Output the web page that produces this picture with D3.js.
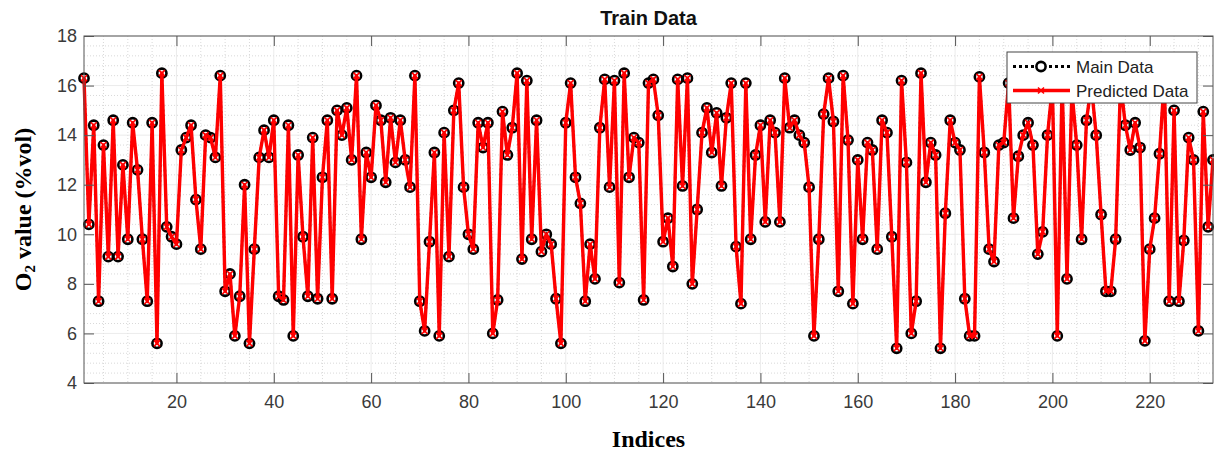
<!DOCTYPE html>
<html><head><meta charset="utf-8">
<script src="https://cdn.jsdelivr.net/npm/d3@7"></script>
<style>body{margin:0;background:#fff;} svg{display:block;}</style>
</head><body><svg id="c" width="1214" height="457"></svg>
<script>
const mainData = [
16.3,10.4,14.4,7.3,13.6,9.1,14.6,9.1,12.8,9.8,
14.5,12.6,9.8,7.3,14.5,5.6,16.5,10.3,9.9,9.6,
13.4,13.9,14.4,11.4,9.4,14.0,13.9,13.1,16.4,7.7,
8.4,5.9,7.5,12.0,5.6,9.4,13.1,14.2,13.1,14.6,
7.5,7.35,14.4,5.9,13.2,9.9,7.5,13.9,7.4,12.3,
14.6,7.4,15.0,14.0,15.1,13.0,16.4,9.8,13.3,12.3,
15.2,14.6,12.1,14.7,12.9,14.6,13.0,11.9,16.4,7.3,
6.1,9.7,13.3,5.9,14.1,9.1,15.0,16.1,11.9,10.0,
9.4,14.5,13.5,14.5,6.0,7.35,14.95,13.2,14.3,16.5,
9.0,16.2,9.8,14.6,9.3,10.0,9.6,7.4,5.6,14.5,
16.1,12.3,11.25,7.3,9.6,8.2,14.3,16.25,11.9,16.2,
8.05,16.5,12.3,13.9,13.7,7.35,16.1,16.25,14.8,9.7,
10.65,8.7,16.25,11.95,16.3,8.0,11.0,14.1,15.1,13.3,
14.9,11.95,14.7,16.1,9.5,7.2,16.1,9.8,13.2,14.4,
10.5,14.6,14.1,10.5,16.3,14.3,14.6,14.0,13.7,11.9,
5.9,9.8,14.85,16.3,14.55,7.7,16.4,13.8,7.2,13.0,
9.8,13.7,13.4,9.4,14.6,14.1,9.9,5.4,16.2,12.9,
6.0,7.3,16.5,12.1,13.7,13.2,5.4,10.85,14.6,13.7,
13.4,7.4,5.9,5.9,16.35,13.3,9.4,8.9,13.6,13.7,
16.1,10.65,13.15,14.0,14.5,13.6,9.2,10.1,14.0,16.0,
5.9,16.2,8.2,15.8,13.6,9.8,14.6,16.0,14.0,10.8,
7.7,7.7,9.8,16.1,14.4,13.4,14.5,13.5,5.7,9.4,
10.65,13.25,16.3,7.3,15.0,7.3,9.75,13.9,13.0,6.1,
14.95,10.3,13.0
];
const predictedData = [
16.3,10.4,14.4,7.3,13.6,9.1,14.6,9.1,12.8,9.8,
14.5,12.6,9.8,7.3,14.5,5.6,16.5,10.3,9.9,9.6,
13.4,13.9,14.4,11.4,9.4,14.0,13.9,13.1,16.4,7.7,
8.4,5.9,7.5,12.0,5.6,9.4,13.1,14.2,13.1,14.6,
7.5,7.35,14.4,5.9,13.2,9.9,7.5,13.9,7.4,12.3,
14.6,7.4,15.0,14.0,15.1,13.0,16.4,9.8,13.3,12.3,
15.2,14.6,12.1,14.7,12.9,14.6,13.0,11.9,16.4,7.3,
6.1,9.7,13.3,5.9,14.1,9.1,15.0,16.1,11.9,10.0,
9.4,14.5,13.5,14.5,6.0,7.35,14.95,13.2,14.3,16.5,
9.0,16.2,9.8,14.6,9.3,10.0,9.6,7.4,5.6,14.5,
16.1,12.3,11.25,7.3,9.6,8.2,14.3,16.25,11.9,16.2,
8.05,16.5,12.3,13.9,13.7,7.35,16.1,16.25,14.8,9.7,
10.65,8.7,16.25,11.95,16.3,8.0,11.0,14.1,15.1,13.3,
14.9,11.95,14.7,16.1,9.5,7.2,16.1,9.8,13.2,14.4,
10.5,14.6,14.1,10.5,16.3,14.3,14.6,14.0,13.7,11.9,
5.9,9.8,14.85,16.3,14.55,7.7,16.4,13.8,7.2,13.0,
9.8,13.7,13.4,9.4,14.6,14.1,9.9,5.4,16.2,12.9,
6.0,7.3,16.5,12.1,13.7,13.2,5.4,10.85,14.6,13.7,
13.4,7.4,5.9,5.9,16.35,13.3,9.4,8.9,13.6,13.7,
16.1,10.65,13.15,14.0,14.5,13.6,9.2,10.1,14.0,16.0,
5.9,16.2,8.2,15.8,13.6,9.8,14.6,16.0,14.0,10.8,
7.7,7.7,9.8,16.1,14.4,13.4,14.5,13.5,5.7,9.4,
10.65,13.25,16.3,7.3,15.0,7.3,9.75,13.9,13.0,6.1,
14.95,10.3,13.0
];
const xTicks = [20,40,60,80,100,120,140,160,180,200,220];
const yTicks = [4,6,8,10,12,14,16,18];
const seriesNames = ["Main Data","Predicted Data"];
const titleText = "Train Data";
const xLabel = "Indices";

const svg = d3.select("#c");
const L = 84, R = 1213, T = 36, B = 383;
const N = mainData.length;
const x = d3.scaleLinear().domain([1, N]).range([L, R]);
const y = d3.scaleLinear().domain([4, 18]).range([B, T]);

svg.append("rect").attr("width",1214).attr("height",457).attr("fill","#fff");

// minor grid
const xMinor = d3.range(5, N + 1, 5).filter(v => v % 20 !== 0);
const yMinor = d3.range(4, 18.001, 0.4).map(v => +v.toFixed(1)).filter(v => Math.abs(v/2 - Math.round(v/2)) > 1e-6);
const grid = svg.append("g");
grid.selectAll("line.xm").data(xMinor).join("line")
  .attr("x1", d => x(d)).attr("x2", d => x(d)).attr("y1", T).attr("y2", B)
  .attr("stroke", "#cfcfcf").attr("stroke-width", 0.8).attr("stroke-dasharray", "1,2");
grid.selectAll("line.ym").data(yMinor).join("line")
  .attr("y1", d => y(d)).attr("y2", d => y(d)).attr("x1", L).attr("x2", R)
  .attr("stroke", "#cfcfcf").attr("stroke-width", 0.8).attr("stroke-dasharray", "1,2");
grid.selectAll("line.xM").data(xTicks).join("line")
  .attr("x1", d => x(d)).attr("x2", d => x(d)).attr("y1", T).attr("y2", B)
  .attr("stroke", "#e6e6e6").attr("stroke-width", 0.8);
grid.selectAll("line.yM").data(yTicks).join("line")
  .attr("y1", d => y(d)).attr("y2", d => y(d)).attr("x1", L).attr("x2", R)
  .attr("stroke", "#e6e6e6").attr("stroke-width", 0.8);

// data
const line = d3.line().x((d, i) => x(i + 1)).y(d => y(d));
const plot = svg.append("g");
plot.append("path").datum(mainData).attr("d", line)
  .attr("fill", "none").attr("stroke", "#000").attr("stroke-width", 2.5).attr("stroke-dasharray", "2,3");
plot.selectAll("circle.m").data(mainData).join("circle")
  .attr("cx", (d, i) => x(i + 1)).attr("cy", d => y(d)).attr("r", 4.6)
  .attr("fill", "none").attr("stroke", "#000").attr("stroke-width", 2.6);
plot.append("path").datum(predictedData).attr("d", line)
  .attr("fill", "none").attr("stroke", "#ff0000").attr("stroke-width", 3.4).attr("stroke-linejoin", "round");
const xm = 3;
plot.selectAll("path.p").data(predictedData).join("path")
  .attr("d", (d, i) => {
    const cx = x(i + 1), cy = y(d);
    return `M${cx-xm},${cy-xm}L${cx+xm},${cy+xm}M${cx-xm},${cy+xm}L${cx+xm},${cy-xm}`;
  })
  .attr("stroke", "#ff0000").attr("stroke-width", 1.6).attr("fill", "none");

// box
svg.append("rect").attr("x", L).attr("y", T).attr("width", R - L).attr("height", B - T)
  .attr("fill", "none").attr("stroke", "#555").attr("stroke-width", 1);

// axes (ticks inside)
const fontTick = "'Liberation Sans', Arial, sans-serif";
function styleAxis(g) {
  g.select(".domain").remove();
  g.selectAll(".tick line").attr("stroke", "#555");
  g.selectAll(".tick text").attr("fill", "#3a3a3a").style("font-family", fontTick).style("font-size", "18px");
}
svg.append("g").attr("transform", `translate(0,${B})`)
  .call(d3.axisBottom(x).tickValues(xTicks).tickSize(-10).tickPadding(12)).call(styleAxis);
svg.append("g").attr("transform", `translate(0,${T})`)
  .call(d3.axisTop(x).tickValues(xTicks).tickSize(-10).tickFormat("")).call(styleAxis);
svg.append("g").attr("transform", `translate(${L},0)`)
  .call(d3.axisLeft(y).tickValues(yTicks).tickSize(-10).tickPadding(7)).call(styleAxis);
svg.append("g").attr("transform", `translate(${R},0)`)
  .call(d3.axisRight(y).tickValues(yTicks).tickSize(-10).tickFormat("")).call(styleAxis);

// title
svg.append("text").attr("x", (L + R) / 2).attr("y", 25).attr("text-anchor", "middle")
  .style("font-family", fontTick).style("font-size", "20px").style("font-weight", "bold")
  .attr("fill", "#111").text(titleText);
// x label
svg.append("text").attr("x", (L + R) / 2).attr("y", 447).attr("text-anchor", "middle")
  .style("font-family", "'Liberation Serif', 'Times New Roman', serif").style("font-size", "24px").style("font-weight", "bold")
  .attr("fill", "#000").text(xLabel);
// y label
const yl = svg.append("text").attr("transform", `translate(31,${(T + B) / 2}) rotate(-90)`).attr("text-anchor", "middle")
  .style("font-family", "'Liberation Serif', 'Times New Roman', serif").style("font-size", "24px").style("font-weight", "bold")
  .attr("fill", "#000");
yl.append("tspan").text("O");
yl.append("tspan").text("2").style("font-size", "15px").attr("dy", 4);
yl.append("tspan").text(" value (%vol)").attr("dy", -4);

// legend
const lg = svg.append("g");
lg.append("rect").attr("x", 1007).attr("y", 52).attr("width", 190).attr("height", 51)
  .attr("fill", "#fff").attr("stroke", "#444").attr("stroke-width", 1);
const r1 = 66.5, r2 = 90.5;
lg.append("line").attr("x1", 1013).attr("x2", 1070).attr("y1", r1).attr("y2", r1)
  .attr("stroke", "#000").attr("stroke-width", 3).attr("stroke-dasharray", "3,3");
lg.append("circle").attr("cx", 1041).attr("cy", r1).attr("r", 4.6)
  .attr("fill", "#fff").attr("stroke", "#000").attr("stroke-width", 2.6);
lg.append("line").attr("x1", 1013).attr("x2", 1070).attr("y1", r2).attr("y2", r2)
  .attr("stroke", "#ff0000").attr("stroke-width", 3.4);
lg.append("path").attr("d", `M${1041-xm},${r2-xm}L${1041+xm},${r2+xm}M${1041-xm},${r2+xm}L${1041+xm},${r2-xm}`)
  .attr("stroke", "#ff0000").attr("stroke-width", 1.6);
lg.selectAll("text").data(seriesNames).join("text")
  .attr("x", 1076).attr("y", (d, i) => (i === 0 ? r1 : r2) + 6)
  .style("font-family", fontTick).style("font-size", "17px").attr("fill", "#222").text(d => d);
</script></body></html>
